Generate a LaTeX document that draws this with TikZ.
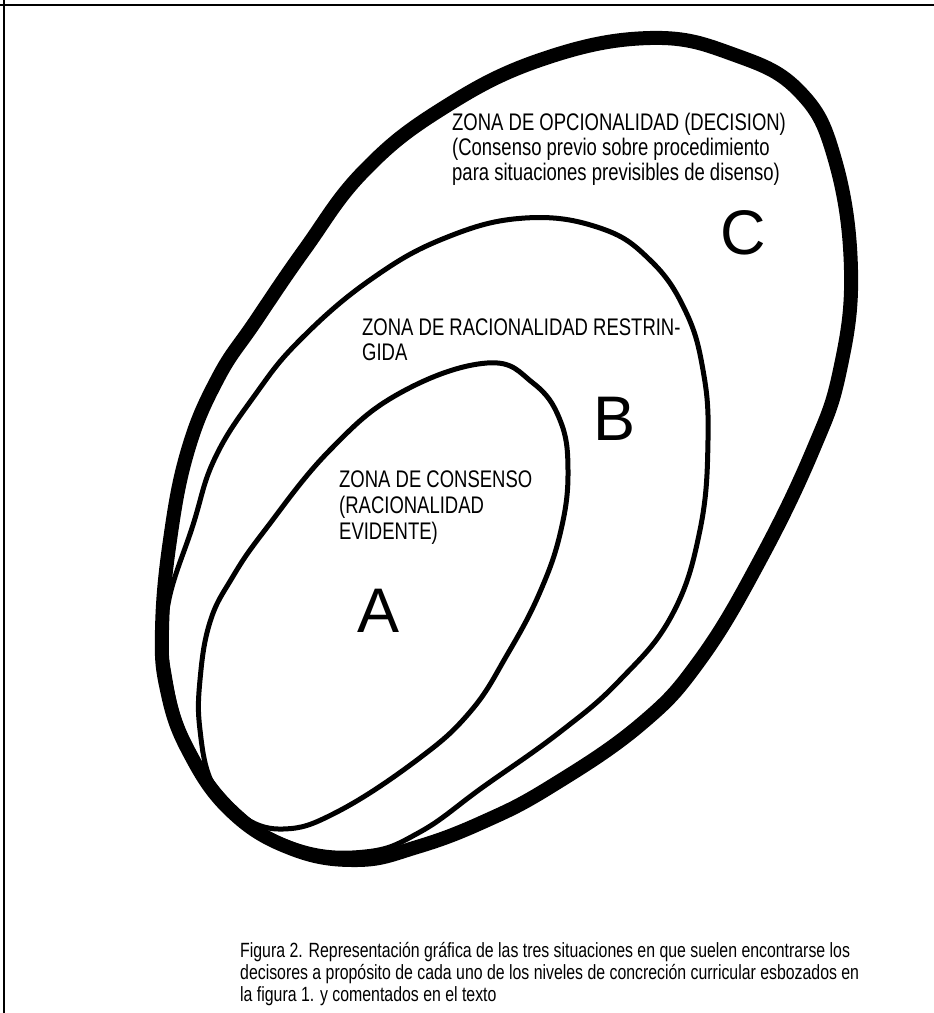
\documentclass[tikz,border=0pt]{standalone}
\usepackage{fontspec}
\setmainfont[FakeStretch=0.77]{Liberation Sans}
\newfontfamily\letterfont{Liberation Sans}
\begin{document}
\begin{tikzpicture}[x=1pt,y=-1pt,
        outerzone/.style={line width=14pt, line join=round},
        zone/.style={line width=5pt, line join=round},
        zonelabel/.style={anchor=base west, inner sep=0pt, font=\fontsize{24}{26}\selectfont},
        zoneletter/.style={anchor=base west, inner sep=0pt, font=\letterfont\fontsize{63}{63}\selectfont},
        caption/.style={anchor=base west, inner sep=0pt, font=\fontsize{20.6}{22}\selectfont},
        frame/.style={line width=1.5pt}]
            \useasboundingbox (0,0) rectangle (934,1013);
            \draw[frame] (0,5) -- (934,5);
            \draw[frame] (4,0) -- (4,1013);
            \draw[outerzone] plot[smooth cycle, tension=0.7] coordinates {(650,38) (735,55) (800,92) (835,160) (851,270) (840,370) (813,450) (760,560) (700,660) (640,725) (550,787) (483,822) (417,847) (357,860) (290,848) (230,810) (188,750) (167,690) (162,630) (170,540) (188,450) (218,378) (255,322) (305,249) (363,172) (440,110) (540,60)};
            \draw[zone] plot[smooth cycle, tension=0.7] coordinates {(525,218) (600,228) (650,260) (685,310) (703,370) (708,440) (700,530) (672,615) (620,680) (560,732) (483,787) (420,832) (365,852) (295,845) (235,808) (190,745) (170,680) (167,610) (193,525) (215,458) (255,395) (300,340) (370,280) (445,238)};
            \draw[zone] plot[smooth cycle, tension=0.7] coordinates {(487,363) (533,383) (560,420) (568,470) (561,530) (540,592) (507,655) (470,712) (417,760) (337,812) (283,829) (240,815) (212,783) (200,730) (200,680) (210,622) (232,578) (265,530) (330,450) (400,393)};
            \node[zonelabel] (opc1) at (452,130) {ZONA DE OPCIONALIDAD (DECISION)};
            \node[zonelabel] (opc2) at (452,155) {(Consenso previo sobre procedimiento};
            \node[zonelabel] (opc3) at (452,180) {para situaciones previsibles de disenso)};
            \node[zonelabel] (rac1) at (362,335) {ZONA DE RACIONALIDAD RESTRIN-};
            \node[zonelabel] (rac2) at (362,360) {GIDA};
            \node[zonelabel] (con1) at (339,487) {ZONA DE CONSENSO};
            \node[zonelabel] (con2) at (339,513) {(RACIONALIDAD};
            \node[zonelabel] (con3) at (339,539) {EVIDENTE)};
            \node[zoneletter] (zonea) at (357,632) {A};
            \node[zoneletter] (zoneb) at (593,440) {B};
            \node[zoneletter] (zonec) at (720,254) {C};
            \node[caption] (cap1) at (240,957) {Figura 2. Representación gráfica de las tres situaciones en que suelen encontrarse los};
            \node[caption] (cap2) at (240,979) {decisores a propósito de cada uno de los niveles de concreción curricular esbozados en};
            \node[caption] (cap3) at (240,1001) {la figura 1. y comentados en el texto};
        \end{tikzpicture}
\end{document}
